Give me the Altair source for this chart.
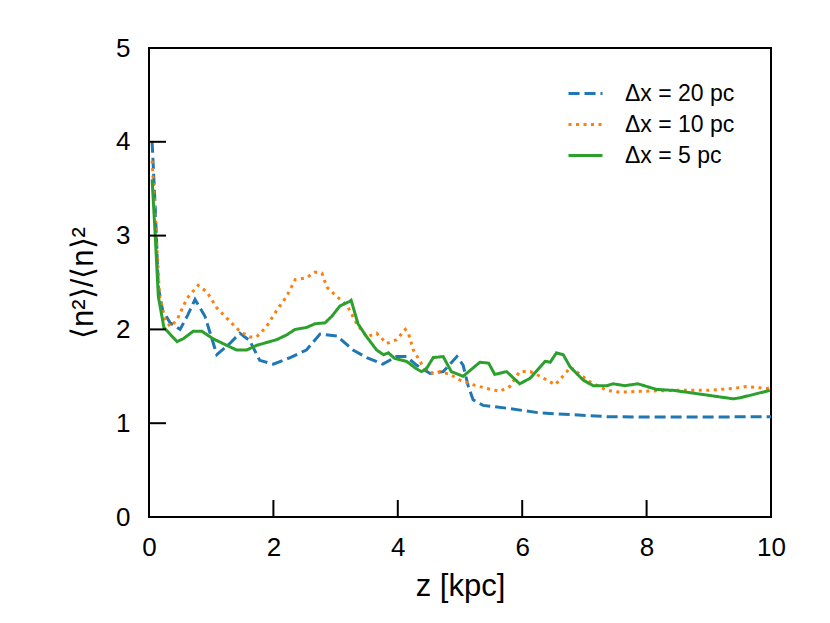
import altair as alt
import pandas as pd

# ---- data ----
blue_z = [0.05, 0.1, 0.15, 0.22, 0.34, 0.5, 0.62, 0.74, 0.9, 1.09, 1.3, 1.46, 1.62, 1.78, 2.0, 2.27,
          2.53, 2.75, 3.02, 3.28, 3.5, 3.76, 3.98, 4.14, 4.3, 4.52, 4.73, 4.95, 5.05, 5.13, 5.21,
          5.37, 5.75, 6.28, 6.82, 7.36, 7.9, 8.43, 9.0, 9.5, 10.0]
blue_v = [4.0, 3.3, 2.45, 2.2, 2.07, 2.0, 2.15, 2.32, 2.14, 1.73, 1.85, 1.96, 1.88, 1.67, 1.63, 1.7,
          1.78, 1.95, 1.93, 1.78, 1.7, 1.63, 1.71, 1.71, 1.62, 1.53, 1.55, 1.71, 1.62, 1.4, 1.25,
          1.19, 1.16, 1.11, 1.09, 1.07, 1.065, 1.065, 1.065, 1.068, 1.07]

orange_z = [0.05, 0.1, 0.17, 0.25, 0.34, 0.45, 0.61, 0.79, 0.93, 1.09, 1.25, 1.46, 1.62, 1.73, 1.89,
            2.05, 2.21, 2.35, 2.53, 2.67, 2.78, 2.86, 3.02, 3.18, 3.34, 3.5, 3.66, 3.82, 3.98, 4.12,
            4.17, 4.25, 4.41, 4.57, 4.68, 4.84, 5.0, 5.21, 5.43, 5.64, 5.8, 5.96, 6.13, 6.29, 6.53,
            6.72, 6.77, 7.09, 7.36, 7.57, 7.9, 8.43, 8.97, 9.39, 9.6, 9.93, 10.0]
orange_v = [3.8, 3.2, 2.35, 2.12, 2.03, 2.1, 2.33, 2.47, 2.4, 2.23, 2.12, 1.98, 1.92, 1.92, 2.03,
            2.2, 2.35, 2.53, 2.55, 2.61, 2.6, 2.45, 2.35, 2.26, 2.06, 1.92, 1.96, 1.85, 1.89, 2.0,
            1.96, 1.78, 1.6, 1.53, 1.55, 1.52, 1.46, 1.41, 1.37, 1.34, 1.39, 1.55, 1.55, 1.5, 1.41,
            1.55, 1.6, 1.44, 1.35, 1.33, 1.34, 1.35, 1.35, 1.37, 1.39, 1.37, 1.38]

green_z = [0.05, 0.1, 0.15, 0.24, 0.45, 0.55, 0.71, 0.85, 1.03, 1.25, 1.41, 1.57, 1.73, 2.05, 2.21,
           2.35, 2.53, 2.67, 2.83, 2.94, 3.07, 3.23, 3.25, 3.36, 3.5, 3.66, 3.77, 3.85, 3.95, 4.14,
           4.3, 4.38, 4.46, 4.57, 4.73, 4.86, 5.05, 5.32, 5.46, 5.56, 5.75, 5.96, 6.13, 6.37, 6.45,
           6.55, 6.66, 6.77, 6.98, 7.14, 7.36, 7.46, 7.65, 7.86, 8.16, 8.43, 8.97, 9.39, 9.5, 9.98]
green_v = [3.6, 3.0, 2.35, 2.02, 1.87, 1.9, 1.98, 1.98, 1.9, 1.83, 1.78, 1.78, 1.83, 1.89, 1.94,
           2.0, 2.02, 2.06, 2.07, 2.14, 2.25, 2.3, 2.31, 2.06, 1.92, 1.78, 1.73, 1.75, 1.69, 1.66,
           1.58, 1.55, 1.58, 1.7, 1.71, 1.55, 1.5, 1.65, 1.64, 1.52, 1.55, 1.42, 1.48, 1.66, 1.65,
           1.75, 1.73, 1.6, 1.46, 1.4, 1.4, 1.42, 1.4, 1.42, 1.36, 1.35, 1.3, 1.26, 1.27, 1.35]

series_names = ["Δx = 20 pc", "Δx = 10 pc", "Δx = 5 pc"]
series_colors = ["#1f77b4", "#ff7f0e", "#2ca02c"]
series_dash = [[11, 5], [3, 4.5], [1, 0]]

x_ticks = [0, 2, 4, 6, 8, 10]
y_ticks = [0, 1, 2, 3, 4, 5]

rows = []
for name, zs, vs in zip(series_names, [blue_z, orange_z, green_z], [blue_v, orange_v, green_v]):
    for i, (z, v) in enumerate(zip(zs, vs)):
        rows.append({"series": name, "z": z, "value": v, "order": i})
df = pd.DataFrame(rows)

W, H = 622, 469
FONT = "Liberation Sans"

x_scale = alt.Scale(domain=[0, 10], nice=False)
y_scale = alt.Scale(domain=[0, 5], nice=False)

x_axis = alt.Axis(title="z [kpc]", values=x_ticks, ticks=False, domain=False, grid=False,
                  labelFlush=False, labelPadding=17, labelFontSize=26, labelFont=FONT,
                  labelColor="black",
                  titleFontSize=31, titleFont=FONT, titleFontWeight="normal", titleColor="black",
                  titleY=78, titleBaseline="alphabetic")
y_axis = alt.Axis(title="⟨n²⟩/⟨n⟩²", values=y_ticks, ticks=False, domain=False, grid=False,
                  labelFlush=False, labelPadding=19, labelFontSize=26, labelFont=FONT,
                  labelColor="black",
                  titleFontSize=31, titleFont=FONT, titleFontWeight="normal", titleColor="black",
                  titleX=-66, titleY=H / 2, titleAlign="center", titleBaseline="middle",
                  titleAngle=270)

legend = alt.Legend(title=None, orient="none", legendX=418, legendY=27,
                    symbolType="stroke", symbolSize=1156, symbolStrokeWidth=3,
                    labelFontSize=23, labelFont=FONT, labelColor="black",
                    labelOffset=21, rowPadding=0)

lines = alt.Chart(df).mark_line(strokeWidth=3, clip=True).encode(
    x=alt.X("z:Q", scale=x_scale, axis=x_axis),
    y=alt.Y("value:Q", scale=y_scale, axis=y_axis),
    color=alt.Color("series:N", sort=series_names,
                    scale=alt.Scale(domain=series_names, range=series_colors), legend=legend),
    strokeDash=alt.StrokeDash("series:N", sort=series_names,
                              scale=alt.Scale(domain=series_names, range=series_dash), legend=legend),
    order="order:Q",
)

ytick_layer = alt.Chart(pd.DataFrame({"value": y_ticks})).mark_rule(color="black", strokeWidth=2).encode(
    y=alt.Y("value:Q", scale=y_scale, axis=y_axis),
    x=alt.value(0), x2=alt.value(17),
)
xtick_layer = alt.Chart(pd.DataFrame({"z": x_ticks})).mark_rule(color="black", strokeWidth=2).encode(
    x=alt.X("z:Q", scale=x_scale, axis=x_axis),
    y=alt.value(H), y2=alt.value(H - 17),
)

chart = alt.layer(lines, ytick_layer, xtick_layer).properties(
    width=W, height=H,
    autosize=alt.AutoSizeParams(type="none"),
    padding={"left": 141, "top": 40, "right": 51, "bottom": 98},
    background="white",
).configure_view(stroke="black", strokeWidth=2)

chart.save("out.html", embed_options={"renderer": "svg", "actions": False})
